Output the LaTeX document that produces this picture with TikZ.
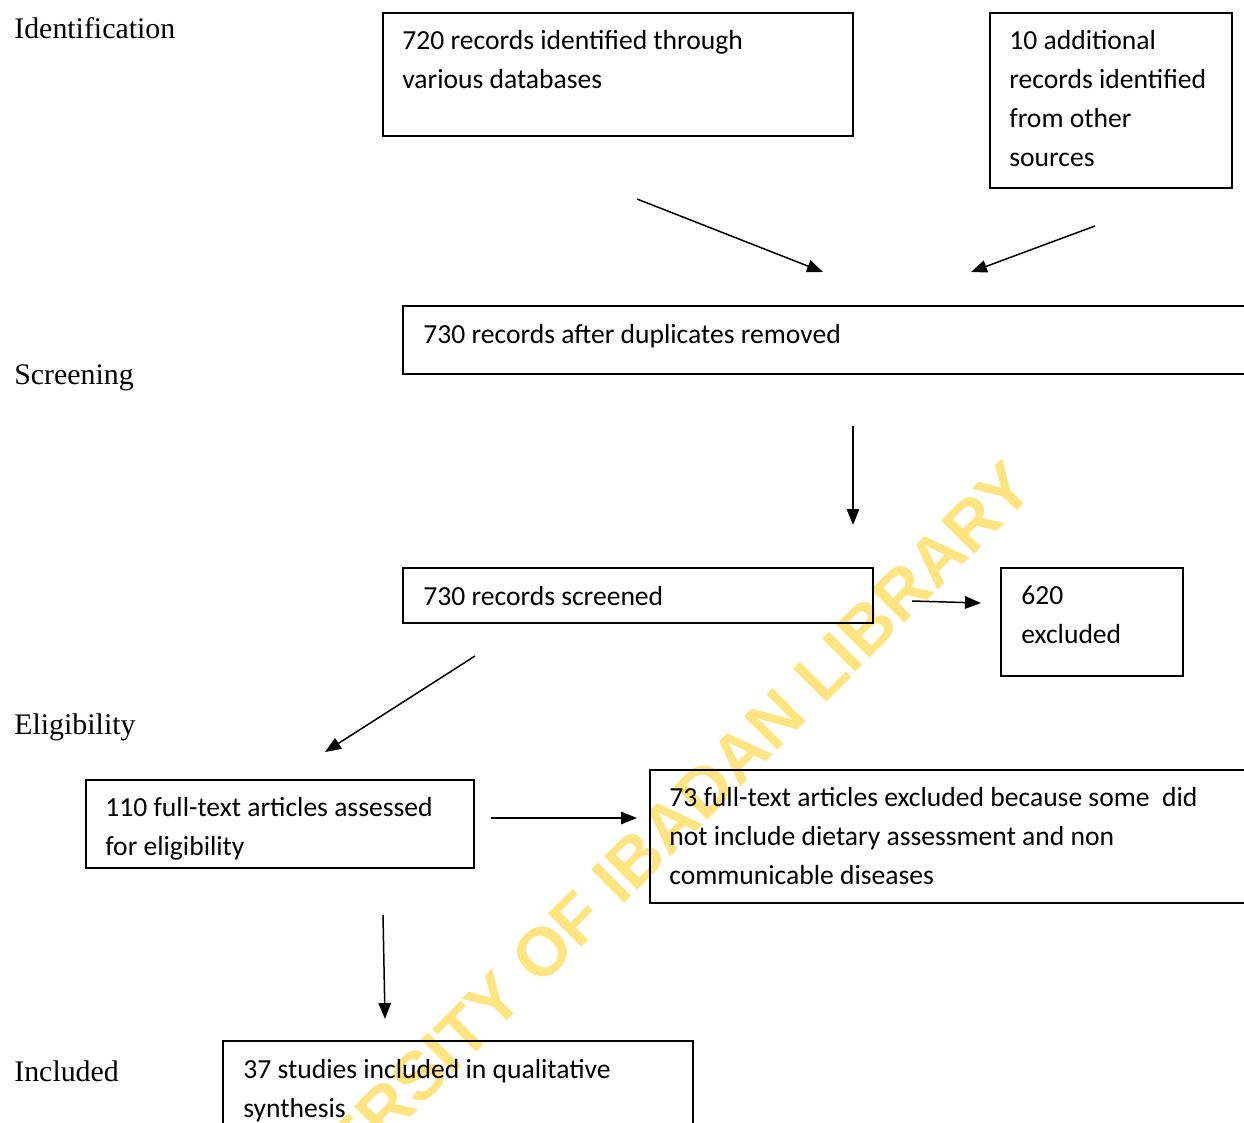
\documentclass[tikz,border=0pt]{standalone}
\usepackage{fontspec}
\setmainfont{Carlito}
\newfontfamily\serifa{Liberation Serif}
\newfontfamily\marca{Liberation Sans}
\usepackage{tikz}
\usetikzlibrary{arrows.meta}
\definecolor{amarelo}{RGB}{255,228,130}
\tikzstyle{caixa}=[draw,line width=1.1pt,inner sep=0pt,outer sep=0pt,anchor=north west]
\tikzstyle{texto}=[inner sep=0pt,anchor=north west,align=left,font=\fontsize{15.7}{22.2}\selectfont]
\tikzstyle{etapa}=[inner sep=0pt,anchor=base west,font=\serifa\fontsize{17}{20}\selectfont]
\tikzstyle{seta}=[line width=0.85pt,-{Triangle[length=0.32cm,width=0.25cm]}]

\begin{document}
\begin{tikzpicture}
    \useasboundingbox (0,0) rectangle (24.88,-22.46);
    \node [rotate=45, text=amarelo, font=\marca\bfseries\fontsize{39}{39}\selectfont] (marca) at (12.4,-17.5) {UNIVERSITY OF IBADAN LIBRARY};
    % stages
    \node [etapa] (ident) at (0.28, -0.78) {Identification};
    \node [etapa] (triag) at (0.28, -7.68) {Screening};
    \node [etapa] (eleg) at (0.28, -14.68) {Eligibility};
    \node [etapa] (inclu) at (0.28, -21.62) {Included};
    % boxes
    \node [caixa, minimum width=9.4cm, minimum height=2.46cm] (bases) at (7.66, -0.26) {};
    \node [caixa, minimum width=4.84cm, minimum height=3.5cm] (outras) at (19.80, -0.26) {};
    \node [caixa, minimum width=17.44cm, minimum height=1.36cm] (duplic) at (8.06, -6.12) {};
    \node [caixa, minimum width=9.4cm, minimum height=1.1cm] (triados) at (8.06, -11.36) {};
    \node [caixa, minimum width=3.64cm, minimum height=2.16cm] (excl) at (20.02, -11.36) {};
    \node [caixa, minimum width=7.76cm, minimum height=1.76cm] (elegiv) at (1.72, -15.60) {};
    \node [caixa, minimum width=12.5cm, minimum height=2.66cm] (exclt) at (13.00, -15.40) {};
    \node [caixa, minimum width=9.4cm, minimum height=2.2cm] (incl) at (4.46, -20.82) {};
    % texts
    \node [texto] (tbases) at (8.04, -0.44) {\strut 720 records identified through\\various databases};
    \node [texto] (toutras) at (20.18, -0.44) {\strut 10 additional\\records identified\\from other\\sources};
    \node [texto] (tduplic) at (8.46, -6.32) {\strut 730 records after duplicates removed};
    \node [texto] (ttriados) at (8.46, -11.56) {\strut 730 records screened};
    \node [texto] (texcl) at (20.42, -11.54) {\strut 620\\excluded};
    \node [texto] (telegiv) at (2.10, -15.78) {\strut 110 full-text articles assessed\\for eligibility};
    \node [texto] (texclt) at (13.38, -15.58) {\strut 73 full-text articles excluded because some\ \ did\\not include dietary assessment and non\\communicable diseases};
    \node [texto] (tincl) at (4.86, -21.02) {\strut 37 studies included in qualitative\\synthesis};
    % arrow ends
    \coordinate (s1a) at (12.74, -3.98);  \coordinate (s1b) at (16.46, -5.44);
    \coordinate (s2a) at (21.90, -4.52);  \coordinate (s2b) at (19.42, -5.44);
    \coordinate (s3a) at (17.06, -8.52);  \coordinate (s3b) at (17.06, -10.50);
    \coordinate (s4a) at (18.24, -12.02); \coordinate (s4b) at (19.62, -12.06);
    \coordinate (s5a) at (9.50, -13.12);  \coordinate (s5b) at (6.50, -15.04);
    \coordinate (s6a) at (9.82, -16.36);  \coordinate (s6b) at (12.74, -16.36);
    \coordinate (s7a) at (7.66, -18.30);  \coordinate (s7b) at (7.70, -20.38);
    \draw [seta] (s1a) -- (s1b);
    \draw [seta] (s2a) -- (s2b);
    \draw [seta] (s3a) -- (s3b);
    \draw [seta] (s4a) -- (s4b);
    \draw [seta] (s5a) -- (s5b);
    \draw [seta] (s6a) -- (s6b);
    \draw [seta] (s7a) -- (s7b);
\end{tikzpicture}
\end{document}
